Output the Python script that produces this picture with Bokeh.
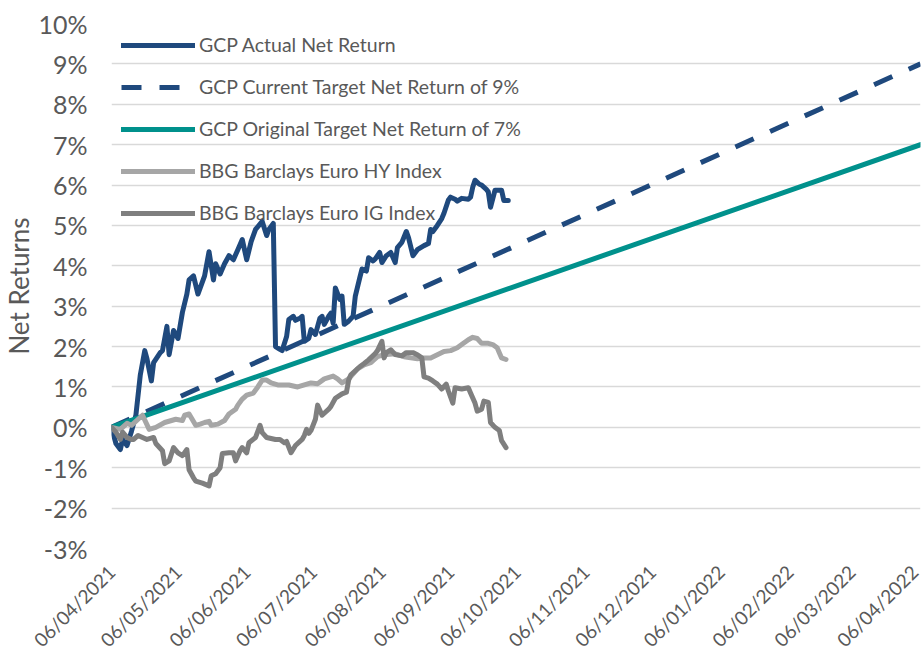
import pandas as pd
from bokeh.plotting import figure
from bokeh.models import (Range1d, FixedTicker, DatetimeTickFormatter,
                          PrintfTickFormatter, Legend, LegendItem)
from bokeh.embed import file_html
from bokeh.resources import INLINE
from math import pi

# ---------------- data ----------------
actual_dates = [
    "2021-04-06", "2021-04-08", "2021-04-10", "2021-04-11", "2021-04-13", "2021-04-15",
    "2021-04-17", "2021-04-19", "2021-04-21", "2021-04-22", "2021-04-24", "2021-04-25",
    "2021-04-28", "2021-04-29", "2021-05-01", "2021-05-02", "2021-05-04", "2021-05-06",
    "2021-05-08", "2021-05-10", "2021-05-11", "2021-05-13", "2021-05-15", "2021-05-18",
    "2021-05-20", "2021-05-22", "2021-05-23", "2021-05-25", "2021-05-27", "2021-05-29",
    "2021-05-31", "2021-06-02", "2021-06-04", "2021-06-06", "2021-06-08", "2021-06-10",
    "2021-06-13", "2021-06-15", "2021-06-16", "2021-06-18", "2021-06-19", "2021-06-21",
    "2021-06-22", "2021-06-24", "2021-06-25", "2021-06-27", "2021-06-28", "2021-06-30",
    "2021-07-01", "2021-07-02", "2021-07-04", "2021-07-05", "2021-07-07", "2021-07-08",
    "2021-07-09", "2021-07-10", "2021-07-11", "2021-07-13", "2021-07-14", "2021-07-15",
    "2021-07-16", "2021-07-18", "2021-07-19", "2021-07-20", "2021-07-22", "2021-07-24",
    "2021-07-25", "2021-07-27", "2021-07-28", "2021-07-30", "2021-07-31", "2021-08-02",
    "2021-08-03", "2021-08-05", "2021-08-06", "2021-08-08", "2021-08-10", "2021-08-12",
    "2021-08-13", "2021-08-15", "2021-08-17", "2021-08-18", "2021-08-20", "2021-08-22",
    "2021-08-25", "2021-08-27", "2021-08-28", "2021-08-29", "2021-08-31", "2021-09-02",
    "2021-09-03", "2021-09-05", "2021-09-06", "2021-09-08", "2021-09-09", "2021-09-11",
    "2021-09-14", "2021-09-15", "2021-09-16", "2021-09-17", "2021-09-19", "2021-09-20",
    "2021-09-22", "2021-09-23", "2021-09-24", "2021-09-26", "2021-09-27", "2021-09-29",
    "2021-09-30", "2021-10-02",
]
actual_values = [
    0.0, -0.4, -0.55, -0.3, -0.45, -0.1,
    0.3, 1.3, 1.9, 1.7, 1.15, 1.6,
    1.85, 1.9, 2.5, 1.8, 2.4, 2.2,
    2.85, 3.3, 3.65, 3.75, 3.3, 3.75,
    4.35, 3.65, 4.05, 3.8, 4.05, 4.25,
    4.15, 4.4, 4.65, 4.15, 4.6, 4.9,
    5.1, 4.75, 4.9, 5.05, 2.0, 1.93,
    1.9, 2.25, 2.67, 2.75, 2.65, 2.7,
    2.75, 2.13, 2.2, 2.42, 2.3, 2.5,
    2.7, 2.75, 2.55, 2.75, 2.83, 2.58,
    3.45, 3.17, 3.25, 2.55, 2.63, 2.75,
    3.25, 3.7, 3.92, 3.87, 4.2, 4.12,
    4.17, 4.33, 4.08, 4.25, 4.33, 4.08,
    4.45, 4.58, 4.85, 4.7, 4.25, 4.4,
    4.5, 4.55, 4.9, 4.85, 5.0, 5.17,
    5.3, 5.63, 5.7, 5.65, 5.6, 5.67,
    5.65, 5.7, 5.95, 6.12, 6.02, 6.0,
    5.9, 5.83, 5.45, 5.87, 5.87, 5.87,
    5.62, 5.62,
]

hy_dates = [
    "2021-04-06", "2021-04-10", "2021-04-13", "2021-04-15", "2021-04-18", "2021-04-20",
    "2021-04-23", "2021-04-26", "2021-04-30", "2021-05-05", "2021-05-08", "2021-05-09",
    "2021-05-11", "2021-05-14", "2021-05-16", "2021-05-18", "2021-05-20", "2021-05-21",
    "2021-05-24", "2021-05-27", "2021-05-29", "2021-06-01", "2021-06-02", "2021-06-04",
    "2021-06-06", "2021-06-09", "2021-06-11", "2021-06-13", "2021-06-15", "2021-06-17",
    "2021-06-20", "2021-06-25", "2021-06-29", "2021-07-02", "2021-07-05", "2021-07-08",
    "2021-07-11", "2021-07-15", "2021-07-17", "2021-07-19", "2021-07-22", "2021-07-26",
    "2021-07-29", "2021-08-01", "2021-08-04", "2021-08-07", "2021-08-12", "2021-08-16",
    "2021-08-19", "2021-08-22", "2021-08-25", "2021-08-28", "2021-08-31", "2021-09-03",
    "2021-09-06", "2021-09-09", "2021-09-11", "2021-09-14", "2021-09-16", "2021-09-18",
    "2021-09-20", "2021-09-23", "2021-09-25", "2021-09-27", "2021-09-29", "2021-10-01",
]
hy_values = [
    0.0, -0.05, 0.1, 0.05, 0.2, 0.3,
    -0.05, 0.0, 0.12, 0.2, 0.17, 0.3,
    0.33, 0.05, 0.08, 0.12, 0.15, 0.05,
    0.08, 0.17, 0.33, 0.45, 0.55, 0.7,
    0.8, 0.85, 1.0, 1.17, 1.17, 1.1,
    1.05, 1.05, 1.0, 1.05, 1.1, 1.08,
    1.2, 1.27, 1.2, 1.1, 1.2, 1.45,
    1.55, 1.6, 1.75, 1.8, 1.82, 1.75,
    1.72, 1.7, 1.72, 1.72, 1.8, 1.88,
    1.9, 1.97, 2.05, 2.17, 2.23, 2.2,
    2.08, 2.08, 2.05, 1.97, 1.72, 1.68,
]

ig_dates = [
    "2021-04-06", "2021-04-08", "2021-04-10", "2021-04-11", "2021-04-13", "2021-04-15",
    "2021-04-16", "2021-04-18", "2021-04-20", "2021-04-22", "2021-04-25", "2021-04-26",
    "2021-04-29", "2021-04-30", "2021-05-02", "2021-05-04", "2021-05-06", "2021-05-08",
    "2021-05-10", "2021-05-11", "2021-05-13", "2021-05-14", "2021-05-17", "2021-05-20",
    "2021-05-21", "2021-05-23", "2021-05-25", "2021-05-26", "2021-05-29", "2021-05-31",
    "2021-06-01", "2021-06-03", "2021-06-04", "2021-06-06", "2021-06-07", "2021-06-10",
    "2021-06-12", "2021-06-13", "2021-06-15", "2021-06-19", "2021-06-21", "2021-06-23",
    "2021-06-24", "2021-06-26", "2021-06-28", "2021-07-01", "2021-07-02", "2021-07-03",
    "2021-07-04", "2021-07-05", "2021-07-07", "2021-07-08", "2021-07-10", "2021-07-13",
    "2021-07-14", "2021-07-16", "2021-07-19", "2021-07-21", "2021-07-22", "2021-07-23",
    "2021-07-27", "2021-07-29", "2021-07-31", "2021-08-03", "2021-08-04", "2021-08-06",
    "2021-08-07", "2021-08-08", "2021-08-10", "2021-08-12", "2021-08-15", "2021-08-17",
    "2021-08-20", "2021-08-22", "2021-08-24", "2021-08-25", "2021-08-27", "2021-08-29",
    "2021-08-31", "2021-09-02", "2021-09-04", "2021-09-05", "2021-09-07", "2021-09-08",
    "2021-09-11", "2021-09-14", "2021-09-15", "2021-09-17", "2021-09-18", "2021-09-20",
    "2021-09-21", "2021-09-23", "2021-09-24", "2021-09-26", "2021-09-28", "2021-09-29",
    "2021-10-01",
]
ig_values = [
    0.0, -0.12, -0.3, -0.12, -0.25, -0.3,
    -0.3, -0.2, -0.25, -0.3, -0.25, -0.4,
    -0.58, -0.9, -0.83, -0.5, -0.63, -0.7,
    -0.55, -1.05, -1.25, -1.33, -1.38, -1.45,
    -1.2, -1.15, -1.0, -0.65, -0.63, -0.63,
    -0.83, -0.58, -0.5, -0.63, -0.38, -0.25,
    0.05, -0.13, -0.25, -0.3, -0.3, -0.38,
    -0.35, -0.63, -0.45, -0.3, -0.2, -0.05,
    -0.15, -0.08, 0.2, 0.55, 0.3, 0.45,
    0.52, 0.72, 0.83, 0.87, 1.17, 1.3,
    1.5, 1.58, 1.67, 1.83, 1.9, 2.13,
    1.72, 1.85, 1.92, 1.8, 1.77, 1.85,
    1.85, 1.8, 1.72, 1.25, 1.22, 1.15,
    1.07, 0.95, 1.07, 0.9, 0.6, 0.98,
    0.95, 0.98, 0.85, 0.6, 0.4, 0.45,
    0.65, 0.62, 0.12, 0.0, -0.08, -0.33,
    -0.5,
]

target_dates = ["2021-04-06", "2022-04-06"]
current_target_values = [0.0, 9.0]
original_target_values = [0.0, 7.0]

x_tick_dates = [
    "2021-04-06", "2021-05-06", "2021-06-06", "2021-07-06", "2021-08-06",
    "2021-09-06", "2021-10-06", "2021-11-06", "2021-12-06", "2022-01-06",
    "2022-02-06", "2022-03-06", "2022-04-06",
]
y_ticks = [-3, -2, -1, 0, 1, 2, 3, 4, 5, 6, 7, 8, 9, 10]

series_labels = [
    "GCP Actual Net Return",
    "GCP Current Target Net Return of 9%",
    "GCP Original Target Net Return of 7%",
    "BBG Barclays Euro HY Index",
    "BBG Barclays Euro IG Index",
]

# ---------------- styling ----------------
NAVY = "#1F497D"
TEAL = "#00918C"
LIGHT = "#A6A6A6"
DARK = "#7F7F7F"
TXT = "#595959"
FONT = "Lato"


def to_dt(seq):
    return pd.to_datetime(pd.Series(seq))


def to_ms(seq):
    ts = pd.to_datetime(pd.Series(seq))
    return [int((t - pd.Timestamp("1970-01-01")) / pd.Timedelta(milliseconds=1)) for t in ts]


p = figure(
    width=922, height=662,
    x_axis_type="datetime",
    x_range=Range1d(pd.Timestamp(x_tick_dates[0]), pd.Timestamp(x_tick_dates[-1])),
    y_range=Range1d(-3, 10),
    output_backend="svg", toolbar_location=None,
    min_border_left=111, min_border_right=2, min_border_top=23, min_border_bottom=111,
)
p.outline_line_color = None
p.background_fill_color = "white"
p.border_fill_color = "white"

p.xgrid.visible = False
p.ygrid.grid_line_color = "#D9D9D9"
p.ygrid.grid_line_width = 1.5
p.ygrid.ticker = FixedTicker(ticks=y_ticks)

p.yaxis.ticker = FixedTicker(ticks=y_ticks)
p.yaxis.formatter = PrintfTickFormatter(format="%d%%")
p.yaxis.axis_line_color = None
p.yaxis.major_tick_line_color = None
p.yaxis.minor_tick_line_color = None
p.yaxis.major_tick_out = 0
p.yaxis.major_tick_in = 0
p.yaxis.major_label_text_font = FONT
p.yaxis.major_label_text_font_size = "25px"
p.yaxis.major_label_text_color = TXT
p.yaxis.major_label_standoff = 24
p.yaxis.axis_label = "Net Returns"
p.yaxis.axis_label_text_font = FONT
p.yaxis.axis_label_text_font_size = "26px"
p.yaxis.axis_label_text_font_style = "normal"
p.yaxis.axis_label_text_color = TXT
p.yaxis.axis_label_standoff = 0

fmt = "%d/%m/%Y"
p.xaxis.ticker = FixedTicker(ticks=to_ms(x_tick_dates))
p.xaxis.formatter = DatetimeTickFormatter(
    microseconds=fmt, milliseconds=fmt, seconds=fmt, minsec=fmt, minutes=fmt,
    hourmin=fmt, hours=fmt, days=fmt, months=fmt, years=fmt,
)
p.xaxis.axis_line_color = None
p.xaxis.major_tick_line_color = None
p.xaxis.minor_tick_line_color = None
p.xaxis.major_tick_out = 0
p.xaxis.major_tick_in = 0
p.xaxis.major_label_orientation = pi / 4
p.xaxis.major_label_text_font = FONT
p.xaxis.major_label_text_font_size = "19px"
p.xaxis.major_label_text_color = TXT
p.xaxis.major_label_standoff = 20

LW = 5
r_actual = p.line(to_dt(actual_dates), actual_values, line_color=NAVY, line_width=LW,
                  line_join="round", line_cap="round")
r_cur = p.line(to_dt(target_dates), current_target_values, line_color=NAVY, line_width=LW,
               line_dash="20 18")
r_orig = p.line(to_dt(target_dates), original_target_values, line_color=TEAL, line_width=LW,
                line_cap="round")
r_hy = p.line(to_dt(hy_dates), hy_values, line_color=LIGHT, line_width=LW,
              line_join="round", line_cap="round")
r_ig = p.line(to_dt(ig_dates), ig_values, line_color=DARK, line_width=LW,
              line_join="round", line_cap="round")

legend = Legend(
    items=[LegendItem(label=lab, renderers=[r]) for lab, r in
           zip(series_labels, [r_actual, r_cur, r_orig, r_hy, r_ig])],
    location="top_left",
    label_text_font=FONT, label_text_font_size="19.5px", label_text_color=TXT,
    glyph_width=74, glyph_height=20, label_height=20, label_standoff=4,
    spacing=19, padding=10, margin=0,
    background_fill_alpha=0, border_line_alpha=0,
)
p.add_layout(legend)

open("out.html", "w").write(file_html(p, INLINE))
